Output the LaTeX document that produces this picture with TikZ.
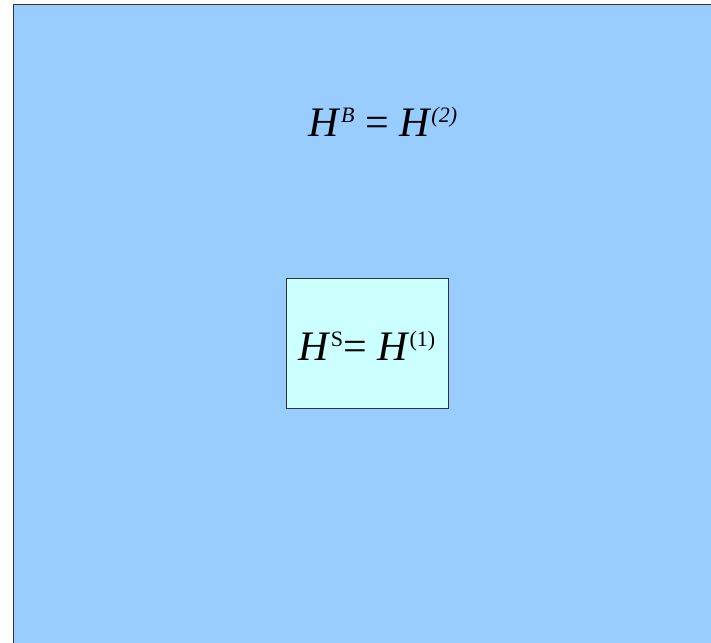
\documentclass[tikz,border=0pt]{standalone}
\usepackage{fontspec}
\setmainfont{Liberation Serif}
\definecolor{outerblue}{HTML}{99CCFF}
\definecolor{innercyan}{HTML}{CCFFFF}
\newcommand{\supx}[1]{\raisebox{14pt}{\fontsize{22}{22}\selectfont #1}}
\begin{document}
\begin{tikzpicture}[x=1pt,y=-1pt, eqtext/.style={inner sep=0pt, font=\fontsize{42}{42}\selectfont}]
\useasboundingbox (0,0) rectangle (711,642);
\clip (0,0) rectangle (711,642);
\fill[white] (0,0) rectangle (711,642);
\draw[fill=outerblue, draw=black!80, line width=1pt] (13.5,4.5) rectangle (730,660);
\node[draw=black!80, fill=innercyan, line width=0.8pt, minimum width=162pt, minimum height=130pt, inner sep=0pt] (sys) at (367,343) {};
\node[eqtext, anchor=base] (bath) at (383,136) {\textit{H}\supx{\textit{B}} = \textit{H}\supx{\textit{(2)}}};
\node[eqtext, anchor=base] (syst) at (367,360) {\textit{H}\supx{S}= \textit{H}\supx{(1)}};
\end{tikzpicture}
\end{document}
